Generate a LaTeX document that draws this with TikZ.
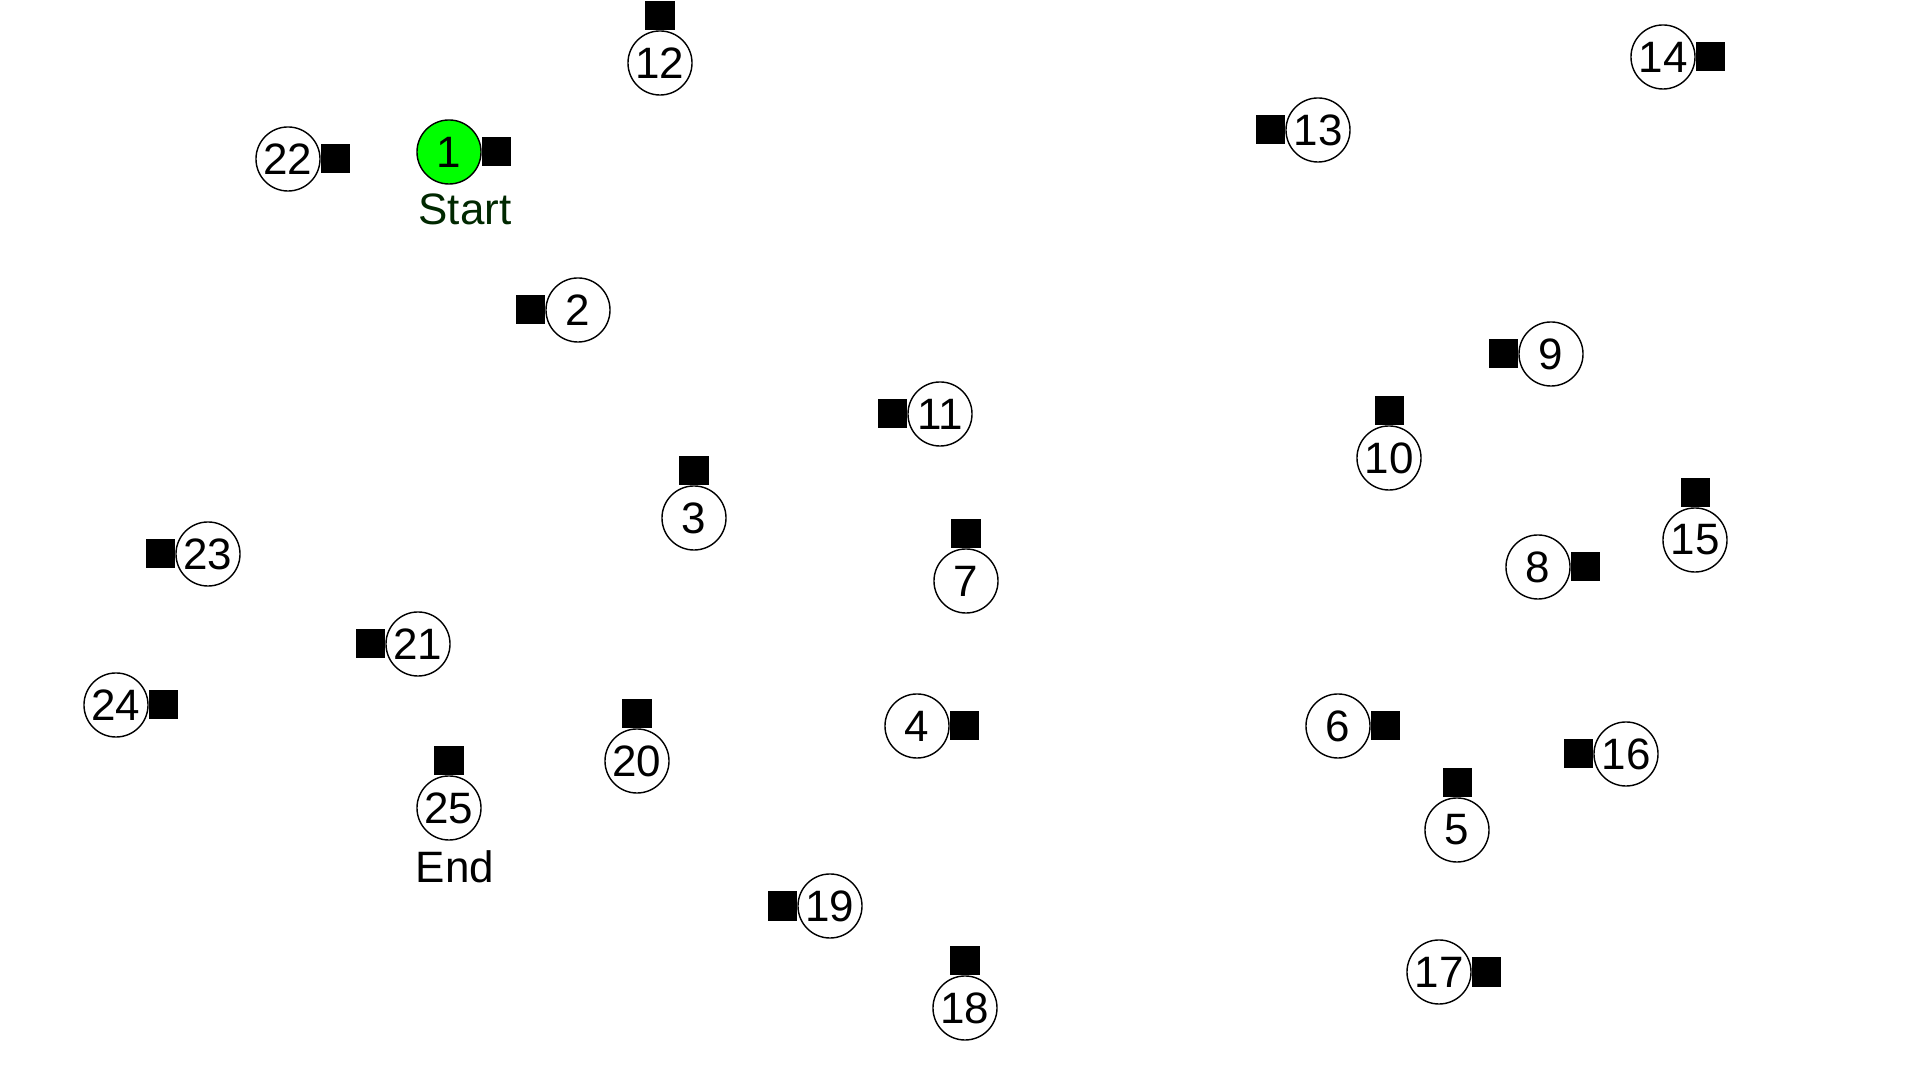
\documentclass[tikz,border=0pt]{standalone}
\usepackage{fontspec}
\setmainfont{Liberation Sans}
\usepackage{tikz}
\usetikzlibrary{positioning}
\definecolor{startgreen}{RGB}{0,255,0}
\definecolor{labelgreen}{RGB}{0,40,0}

\tikzset{
    stop/.style={draw, circle, minimum size=0.64cm, inner sep=0pt, line width=0.4pt, font=\fontsize{12.5}{12.5}\selectfont},
    sq/.style={fill=black, minimum size=0.29cm, inner sep=0pt},
    tag/.style={font=\fontsize{12.5}{12.5}\selectfont}
}

\begin{document}
\begin{tikzpicture}[x=0.01cm, y=-0.01cm]
        \useasboundingbox (0,0) rectangle (1920,1080);
        % stops
        \node[stop, fill=startgreen] (n1) at (449,152) {1};
        \node[stop] (n2) at (578,310) {2};
        \node[stop] (n3) at (694,518) {3};
        \node[stop] (n4) at (917,726) {4};
        \node[stop] (n5) at (1457,830) {5};
        \node[stop] (n6) at (1338,726) {6};
        \node[stop] (n7) at (966,581) {7};
        \node[stop] (n8) at (1538,567) {8};
        \node[stop] (n9) at (1551,354) {9};
        \node[stop] (n10) at (1389,458) {10};
        \node[stop] (n11) at (940,414) {11};
        \node[stop] (n12) at (660,63) {12};
        \node[stop] (n13) at (1318,130) {13};
        \node[stop] (n14) at (1663,57) {14};
        \node[stop] (n15) at (1695,540) {15};
        \node[stop] (n16) at (1626,754) {16};
        \node[stop] (n17) at (1439,972) {17};
        \node[stop] (n18) at (965,1008) {18};
        \node[stop] (n19) at (830,906) {19};
        \node[stop] (n20) at (637,761) {20};
        \node[stop] (n21) at (418,644) {21};
        \node[stop] (n22) at (288,159) {22};
        \node[stop] (n23) at (208,554) {23};
        \node[stop] (n24) at (116,705) {24};
        \node[stop] (n25) at (449,808) {25};
        % squares
        \node[sq, right=0pt of n1] (s1) {};
        \node[sq, left=0pt of n2] (s2) {};
        \node[sq, above=0pt of n3] (s3) {};
        \node[sq, right=0pt of n4] (s4) {};
        \node[sq, above=0pt of n5] (s5) {};
        \node[sq, right=0pt of n6] (s6) {};
        \node[sq, above=0pt of n7] (s7) {};
        \node[sq, right=0pt of n8] (s8) {};
        \node[sq, left=0pt of n9] (s9) {};
        \node[sq, above=0pt of n10] (s10) {};
        \node[sq, left=0pt of n11] (s11) {};
        \node[sq, above=0pt of n12] (s12) {};
        \node[sq, left=0pt of n13] (s13) {};
        \node[sq, right=0pt of n14] (s14) {};
        \node[sq, above=0pt of n15] (s15) {};
        \node[sq, left=0pt of n16] (s16) {};
        \node[sq, right=0pt of n17] (s17) {};
        \node[sq, above=0pt of n18] (s18) {};
        \node[sq, left=0pt of n19] (s19) {};
        \node[sq, above=0pt of n20] (s20) {};
        \node[sq, left=0pt of n21] (s21) {};
        \node[sq, right=0pt of n22] (s22) {};
        \node[sq, left=0pt of n23] (s23) {};
        \node[sq, right=0pt of n24] (s24) {};
        \node[sq, above=0pt of n25] (s25) {};
        % labels
        \node[tag, text=labelgreen] (start) at (465,209) {Start};
        \node[tag] (end) at (455,867) {End};
    \end{tikzpicture}
\end{document}
